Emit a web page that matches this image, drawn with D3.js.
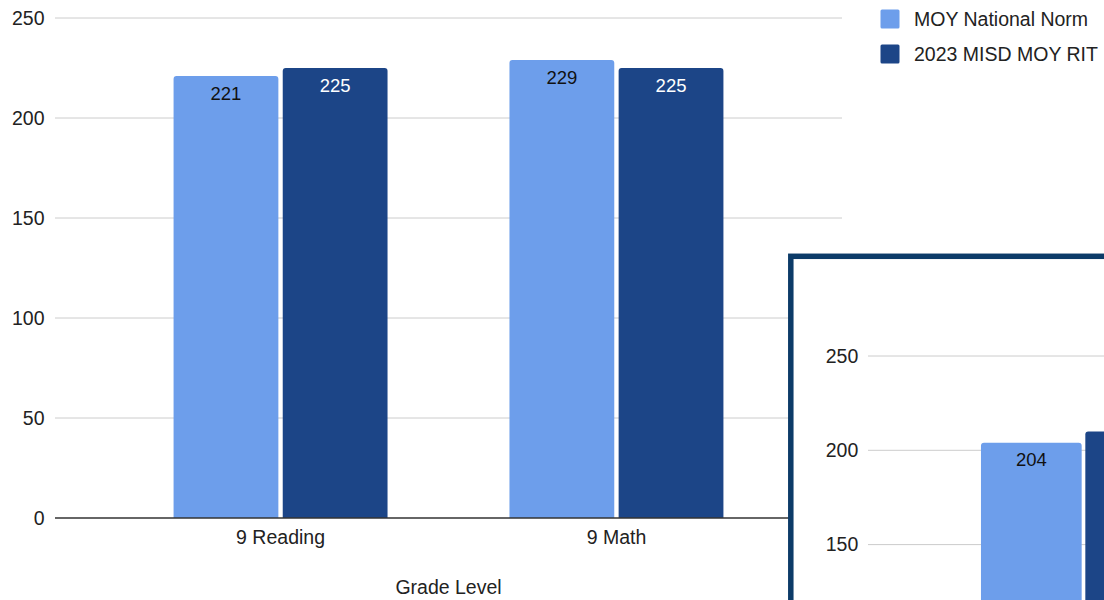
<!DOCTYPE html>
<html>
<head>
<meta charset="utf-8">
<script src="https://cdn.jsdelivr.net/npm/d3@7"></script>
<style>
  html, body { margin: 0; padding: 0; background: #fff; }
  svg { display: block; font-family: "Liberation Sans", Arial, sans-serif; }
</style>
</head>
<body>
<svg id="chart" width="1104" height="600"></svg>
<script>
// Grade-level MOY comparison
const categories = ["9 Reading", "9 Math"];
const seriesNames = ["MOY National Norm", "2023 MISD MOY RIT"];
const nationalNorm = [221, 229];
const misdRit = [225, 225];
const yTicks = [0, 50, 100, 150, 200, 250];

// Second panel (partially visible card)
const insetCategories = ["8 Reading"];
const insetNorm = [204];
const insetMisd = [210];
const insetTicks = [150, 200, 250];

const colors = ["#6d9eeb", "#1c4587"];
const labelColors = ["#111", "#fff"];

const svg = d3.select("#chart");

// Rect with rounded top corners only
function topRounded(x, y, w, h, r) {
  r = Math.min(r, w / 2, h);
  return `M${x},${y + h}V${y + r}Q${x},${y} ${x + r},${y}H${x + w - r}Q${x + w},${y} ${x + w},${y + r}V${y + h}Z`;
}

function drawBars(g, cats, seriesVals, x0, x1, y, labelOffset, fontSize, maxLabelX) {
  const groups = g.selectAll("g.grp").data(cats).join("g")
    .attr("class", "grp")
    .attr("transform", d => `translate(${x0(d)},0)`);
  groups.each(function(cat, ci) {
    const gg = d3.select(this);
    const gx = x0(cat);
    const rows = seriesVals.map((vals, si) => ({ si, v: vals[ci] }));
    gg.selectAll("path").data(rows).join("path")
      .attr("d", d => topRounded(x1(d.si), y(d.v), x1.bandwidth(), y(0) - y(d.v), 3))
      .attr("fill", d => colors[d.si]);
    // value labels (only where they fit in the visible area)
    gg.selectAll("text")
      .data(rows.filter(d => gx + x1(d.si) + x1.bandwidth() / 2 + 20 < maxLabelX))
      .join("text")
      .attr("x", d => x1(d.si) + x1.bandwidth() / 2)
      .attr("y", d => y(d.v) + labelOffset)
      .attr("text-anchor", "middle")
      .attr("font-size", fontSize)
      .attr("fill", d => labelColors[d.si])
      .text(d => d.v);
  });
}

// ---------- Main chart ----------
const left = 55, right = 842;
const y = d3.scaleLinear().domain([0, 250]).range([518, 18]);
const x0 = d3.scaleBand().domain(categories).range([left, right])
  .paddingInner(0.363).paddingOuter(0.353);
const x1 = d3.scaleBand().domain([0, 1]).range([0, x0.bandwidth()]).paddingInner(0.04);

const main = svg.append("g");

// gridlines
main.append("g").selectAll("line").data(yTicks.filter(t => t > 0)).join("line")
  .attr("x1", left).attr("x2", right)
  .attr("y1", d => y(d)).attr("y2", d => y(d))
  .attr("stroke", "#cccccc").attr("stroke-width", 1);

// y tick labels
main.append("g").selectAll("text").data(yTicks).join("text")
  .attr("x", 44.5).attr("y", d => y(d)).attr("dy", "0.35em")
  .attr("text-anchor", "end").attr("font-size", 19.5).attr("fill", "#222")
  .text(d => d);

drawBars(main.append("g"), categories, [nationalNorm, misdRit], x0, x1, y, 24, 18.5, 1104);

// baseline
main.append("line")
  .attr("x1", left).attr("x2", right)
  .attr("y1", y(0)).attr("y2", y(0))
  .attr("stroke", "#333").attr("stroke-width", 1.5);

// category labels
main.append("g").selectAll("text").data(categories).join("text")
  .attr("x", d => x0(d) + x0.bandwidth() / 2).attr("y", 543.5)
  .attr("text-anchor", "middle").attr("font-size", 19.5).attr("fill", "#222")
  .text(d => d);

// axis title
main.append("text")
  .attr("x", (left + right) / 2).attr("y", 594)
  .attr("text-anchor", "middle").attr("font-size", 19.5).attr("fill", "#222")
  .text("Grade Level");

// legend
const legend = svg.append("g").selectAll("g").data(seriesNames).join("g")
  .attr("transform", (d, i) => `translate(880.5,${9.5 + i * 35})`);
legend.append("rect").attr("width", 19).attr("height", 19).attr("rx", 1.5)
  .attr("fill", (d, i) => colors[i]);
legend.append("text").attr("x", 33.5).attr("y", 16.5)
  .attr("font-size", 19.5).attr("fill", "#222").text(d => d);

// ---------- Second panel ----------
const card = svg.append("g");
card.append("defs").append("clipPath").attr("id", "cardClip")
  .append("rect").attr("x", 793).attr("y", 259).attr("width", 320).attr("height", 350);

card.append("rect")
  .attr("x", 790.8).attr("y", 256.3).attr("width", 330).attr("height", 360)
  .attr("fill", "#fff").attr("stroke", "#0c3b68").attr("stroke-width", 5.5);

const inner = card.append("g").attr("clip-path", "url(#cardClip)");
const iy = d3.scaleLinear().domain([0, 250]).range([827.5, 356]);
const ix0 = d3.scaleBand().domain(insetCategories).range([868, 1299])
  .paddingInner(0).paddingOuter(0.551);
const ix1 = d3.scaleBand().domain([0, 1]).range([0, ix0.bandwidth()]).paddingInner(0.035);

inner.append("g").selectAll("line").data(insetTicks).join("line")
  .attr("x1", 868).attr("x2", 1104)
  .attr("y1", d => iy(d)).attr("y2", d => iy(d))
  .attr("stroke", "#cccccc").attr("stroke-width", 1);

inner.append("g").selectAll("text").data(insetTicks).join("text")
  .attr("x", 858.3).attr("y", d => iy(d)).attr("dy", "0.35em")
  .attr("text-anchor", "end").attr("font-size", 19.5).attr("fill", "#222")
  .text(d => d);

drawBars(inner.append("g"), insetCategories, [insetNorm, insetMisd], ix0, ix1, iy, 23, 18.5, 1104);
</script>
</body>
</html>
